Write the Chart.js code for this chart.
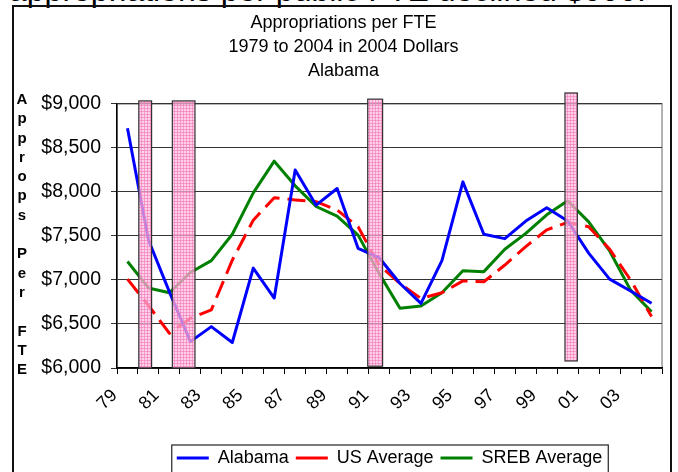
<!DOCTYPE html>
<html>
<head>
<meta charset="utf-8">
<script src="https://cdn.jsdelivr.net/npm/chart.js@4/dist/chart.umd.min.js"></script>
<style>
  html, body { margin: 0; padding: 0; background: #fff; overflow: hidden; }
  #page { position: relative; width: 678px; height: 472px; overflow: hidden; font-family: "Liberation Sans", Arial, sans-serif; }
  #lead { position: absolute; left: 9px; top: -26px; font-size: 32px; line-height: 32px; white-space: nowrap; color: #000; }
  #frame { position: absolute; left: 12px; top: 5px; width: 660px; height: 490px; border: 2px solid #111; box-sizing: border-box; }
  #axisWord { position: absolute; left: 14px; top: 89px; width: 16px; font: bold 15px "Liberation Sans", Arial, sans-serif; line-height: 19.3px; text-align: center; color: #000; }
  #wrap { position: absolute; left: 0; top: 0; width: 678px; height: 477px; }
</style>
</head>
<body>
<div id="page">
  <div id="lead">appropriations per public FTE declined $000.</div>
  <div id="frame"></div>
  <div id="wrap"><canvas id="chart"></canvas></div>
  <div id="axisWord">A<br>p<br>p<br>r<br>o<br>p<br>s<br>&nbsp;<br>P<br>e<br>r<br>&nbsp;<br>F<br>T<br>E</div>
</div>
<script>
// years on the x axis (two-digit labels)
const years = ['79', '80', '81', '82', '83', '84', '85', '86', '87', '88', '89', '90', '91',
               '92', '93', '94', '95', '96', '97', '98', '99', '00', '01', '02', '03', '04'];

// appropriations per FTE, 2004 dollars
const alabama = [8725, 7455, 6865, 6300, 6470, 6290, 7135, 6795, 8250, 7850, 8040, 7360, 7255,
                 6960, 6735, 7220, 8115, 7520, 7470, 7670, 7820, 7670, 7305, 7010, 6875, 6735];
const usAverage = [7010, 6710, 6395, 6565, 6660, 7225, 7680, 7935, 7910, 7890, 7795, 7605, 7170,
                   6960, 6790, 6855, 6990, 6980, 7170, 7380, 7570, 7655, 7605, 7350, 7000, 6585];
const srebAverage = [7210, 6910, 6855, 7085, 7220, 7520, 7990, 8350, 8070, 7835, 7725, 7510, 7075,
                     6680, 6705, 6855, 7105, 7095, 7350, 7530, 7740, 7900, 7660, 7330, 6885, 6640];

// recession shading (fractional years, dollar extent)
const recessionStart = [1980.04, 1981.64, 1990.96, 2000.37];
const recessionEnd = [1980.65, 1982.72, 1991.67, 2000.96];
const recessionTop = [9035, 9035, 9055, 9125];
const recessionBottom = [6000, 6000, 6020, 6080];

const firstYear = 1979;

function makePattern(ctx) {
    const c = document.createElement('canvas');
    c.width = 3; c.height = 3;
    const p = c.getContext('2d');
    p.fillStyle = 'rgba(255, 190, 222, 0.7)';
    p.fillRect(0, 0, 3, 3);
    p.fillStyle = 'rgba(240, 120, 185, 0.6)';
    p.fillRect(0, 0, 3, 1);
    p.fillRect(0, 0, 1, 3);
    return ctx.createPattern(c, 'repeat');
}

const plotFrame = {
    id: 'plotFrame',
    beforeDraw(chart) {
        const { ctx, chartArea: a } = chart;
        ctx.save();
        ctx.strokeStyle = '#9a9a9a';
        ctx.lineWidth = 1.5;
        ctx.strokeRect(a.left, a.top, a.right - a.left, a.bottom - a.top);
        ctx.restore();
    }
};

const recessionBars = {
    id: 'recessionBars',
    afterDatasetsDraw(chart) {
        const { ctx, scales: { x, y } } = chart;
        const pattern = makePattern(ctx);
        ctx.save();
        for (let i = 0; i < recessionStart.length; i++) {
            // category i is the year firstYear + i; its left edge sits at value i - 0.5
            const x0 = x.getPixelForValue(recessionStart[i] - firstYear - 0.5);
            const x1 = x.getPixelForValue(recessionEnd[i] - firstYear - 0.5);
            const y0 = y.getPixelForValue(recessionTop[i]);
            const y1 = y.getPixelForValue(recessionBottom[i]);
            ctx.fillStyle = pattern;
            ctx.fillRect(x0, y0, x1 - x0, y1 - y0);
            ctx.strokeStyle = '#333';
            ctx.lineWidth = 1.2;
            ctx.strokeRect(x0, y0, x1 - x0, y1 - y0);
        }
        ctx.restore();
    }
};

const legendBox = {
    id: 'legendBox',
    afterDraw(chart) {
        const boxes = chart.legend.legendHitBoxes;
        if (!boxes || !boxes.length) return;
        const { ctx } = chart;
        const left = Math.min(...boxes.map(b => b.left)) - 5;
        const right = Math.max(...boxes.map(b => b.left + b.width)) + 6;
        const top = boxes[0].top - 4;
        ctx.save();
        ctx.strokeStyle = '#222';
        ctx.lineWidth = 1.2;
        ctx.strokeRect(left, top, right - left, 60);
        ctx.restore();
    }
};

Chart.defaults.font.family = '"Liberation Sans", Arial, sans-serif';
Chart.defaults.color = '#000';

new Chart(document.getElementById('chart'), {
    type: 'line',
    data: {
        labels: years,
        datasets: [
            { label: 'Alabama', data: alabama, borderColor: '#0000ff', backgroundColor: '#0000ff', borderWidth: 3 },
            { label: 'US Average', data: usAverage, borderColor: '#ff0000', backgroundColor: '#ff0000', borderWidth: 3, borderDash: [18, 8] },
            { label: 'SREB Average', data: srebAverage, borderColor: '#008000', backgroundColor: '#008000', borderWidth: 3 }
        ]
    },
    options: {
        responsive: true,
        maintainAspectRatio: false,
        animation: false,
        layout: { padding: { left: 18, right: 9, top: 0, bottom: 0 } },
        elements: {
            point: { radius: 0, hoverRadius: 0 },
            line: { tension: 0, borderJoinStyle: 'round', borderCapStyle: 'butt' }
        },
        plugins: {
            title: {
                display: true,
                text: ['Appropriations per FTE', '1979 to 2004 in 2004 Dollars', 'Alabama'],
                font: { size: 18, weight: 'normal', lineHeight: 1.333 },
                color: '#000',
                padding: { top: 11, bottom: 21 }
            },
            legend: {
                position: 'bottom',
                fullSize: false,
                labels: {
                    usePointStyle: true,
                    pointStyle: 'line',
                    pointStyleWidth: 32,
                    padding: 7,
                    font: { size: 18 },
                    color: '#000'
                }
            },
            tooltip: { enabled: false }
        },
        scales: {
            x: {
                offset: true,
                grid: { display: true, drawOnChartArea: false, offset: true, tickLength: 6, color: '#000' },
                border: { color: '#000', width: 1.5 },
                ticks: {
                    autoSkip: false,
                    minRotation: 45,
                    maxRotation: 45,
                    labelOffset: -13,
                    padding: 11,
                    font: { size: 18 },
                    callback: function (value, index) {
                        return index % 2 === 0 ? this.getLabelForValue(value) : '';
                    }
                },
                afterFit: (scale) => { scale.height = 74; }
            },
            y: {
                min: 6000,
                max: 9000,
                grid: { color: '#333', tickLength: 6 },
                border: { color: '#000', width: 1.5 },
                ticks: {
                    stepSize: 500,
                    padding: 10,
                    font: { size: 19.5 },
                    callback: (v) => '$' + v.toLocaleString('en-US')
                },
                afterFit: (scale) => { scale.width = 99; }
            }
        }
    },
    plugins: [plotFrame, recessionBars, legendBox]
});
</script>
</body>
</html>
